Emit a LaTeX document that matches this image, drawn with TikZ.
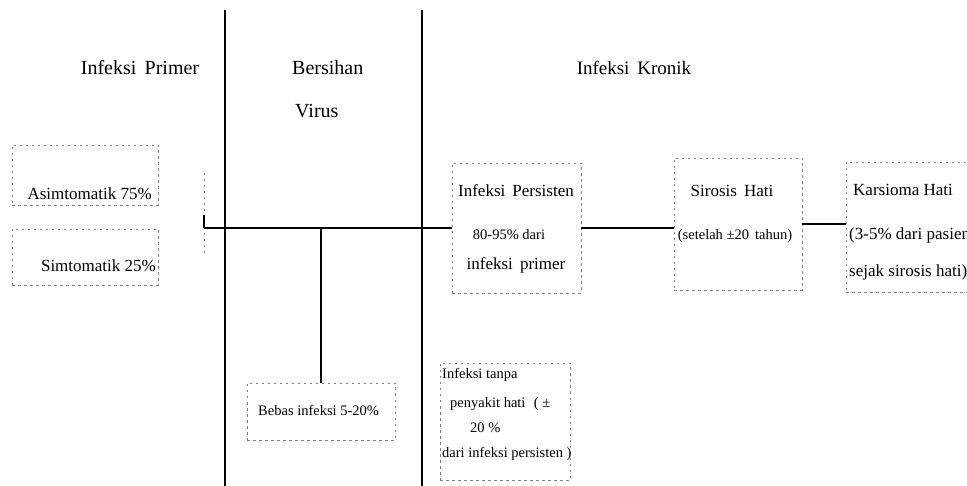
\documentclass[tikz,border=0pt]{standalone}
\usepackage{fontspec}
\setmainfont{Liberation Serif}
\begin{document}
\begin{tikzpicture}[x=1pt,y=-1pt,
  box/.style={draw=black!50, dash pattern=on 2.5pt off 3.5pt, line width=0.6pt, inner sep=0pt, outer sep=0pt},
  faint/.style={draw=black!50, dash pattern=on 2.5pt off 3.5pt, line width=0.6pt},
  divider/.style={line width=2.6pt},
  link/.style={line width=2.2pt},
  hdr/.style={font=\fontsize{20}{24}\selectfont, inner sep=0pt},
  big/.style={font=\fontsize{17}{20}\selectfont, inner sep=0pt},
  small/.style={font=\fontsize{14.5}{17}\selectfont, inner sep=0pt}]
\useasboundingbox (0,0) rectangle (967,486);

% column dividers
\coordinate (d1t) at (225,10);  \coordinate (d1b) at (225,486);
\coordinate (d2t) at (422,10);  \coordinate (d2b) at (422,486);
\draw[divider] (d1t) -- (d1b);
\draw[divider] (d2t) -- (d2b);

% headers
\node[hdr, anchor=base] (hprim) at (140,75) {Infeksi\, Primer};
\node[hdr, anchor=base west] (hbers) at (292,75) {Bersihan};
\node[hdr, anchor=base west] (hvir) at (295,118) {Virus};
\node[hdr, anchor=base, font=\fontsize{19}{23}\selectfont] (hkron) at (634,75) {Infeksi\, Kronik};

% boxes
\node[box, minimum width=146pt, minimum height=60pt] (asim) at (85,175) {};
\node[box, minimum width=146pt, minimum height=56pt] (simt) at (85,257) {};
\node[box, minimum width=129pt, minimum height=130pt] (pers) at (516.5,228) {};
\node[box, minimum width=128pt, minimum height=132pt] (sir) at (738,224) {};
\node[box, minimum width=154pt, minimum height=130pt] (kar) at (923,227) {};
\node[box, minimum width=148pt, minimum height=57pt] (beb) at (321,411.5) {};
\node[box, minimum width=130pt, minimum height=117pt] (tanpa) at (505,421.5) {};

% box texts
\node[big, anchor=base east] (tasim) at (152,200) {Asimtomatik 75\%};
\node[big, anchor=base east] (tsimt) at (156,272) {Simtomatik 25\%};

\node[big, anchor=base] (tpers1) at (516,197) {Infeksi\, Persisten};
\node[small, anchor=base] (tpers2) at (509,240) {80-95\% dari};
\node[big, anchor=base] (tpers3) at (516,270) {infeksi\, primer};

\node[big, anchor=base] (tsir1) at (732,197) {Sirosis\, Hati};
\node[small, anchor=base] (tsir2) at (735,240) {(setelah ±20\, tahun)};

\node[big, anchor=base west] (tkar1) at (853,196) {Karsioma Hati};
\node[big, anchor=base west] (tkar2) at (849,240) {(3-5\% dari pasien};
\node[big, anchor=base west] (tkar3) at (849,277) {sejak sirosis hati)};

\node[small, anchor=base west] (tbeb) at (258,415) {Bebas infeksi 5-20\%};

\node[small, anchor=base west] (ttan1) at (442,378) {Infeksi tanpa};
\node[small, anchor=base west] (ttan2) at (450,407) {penyakit hati\, \,( ±};
\node[small, anchor=base west] (ttan3) at (470,432) {20 \%};
\node[small, anchor=base west] (ttan4) at (442,457) {dari infeksi persisten )};

% connectors
\coordinate (jn) at (204,228);
\coordinate (jt) at (204,215);
\coordinate (bt) at (204,173);
\coordinate (bb) at (204,255);
\draw[faint] (bt) -- (bb);
\draw[link] (jt) -- (jn);
\draw[link] (jn) -- (pers.west);
\draw[link] (pers.east) -- (pers.east -| sir.west);
\draw[link] (sir.east) -- (sir.east -| kar.west);
\draw[link] (beb.north) -- (beb.north |- jn);
\end{tikzpicture}
\end{document}
